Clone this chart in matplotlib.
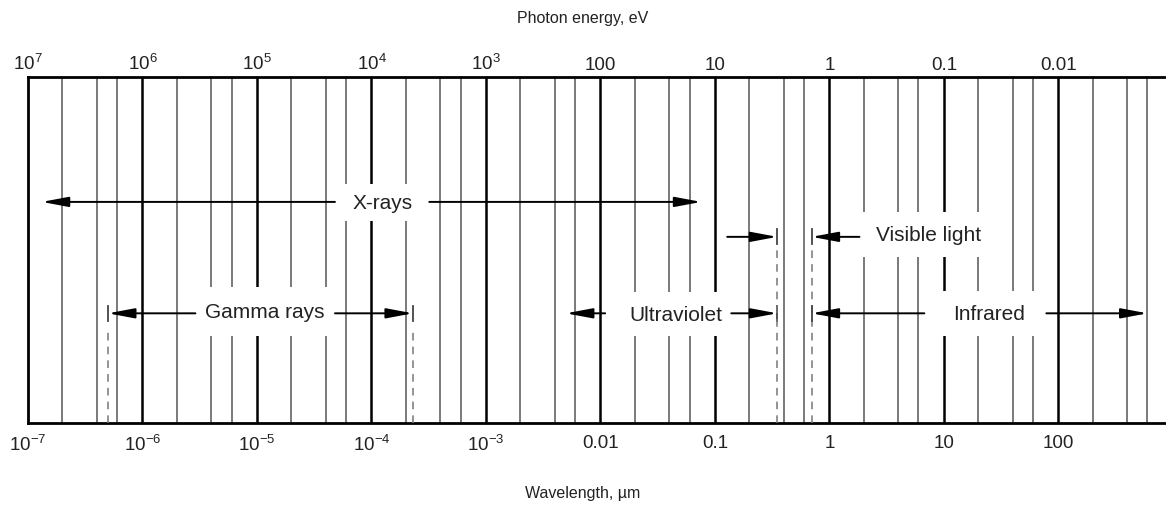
#!/usr/bin/env python3
# -*- coding: utf-8 -*-

import numpy as np
import matplotlib
matplotlib.use('Agg')
import matplotlib.pyplot as plt
from matplotlib.transforms import blended_transform_factory
from matplotlib.patches import Rectangle

plt.rcParams['font.family'] = ['Liberation Sans', 'DejaVu Sans']
plt.rcParams['mathtext.default'] = 'regular'

# wavelength axis (micrometres)
wl_ticks = [1e-7, 1e-6, 1e-5, 1e-4, 1e-3, 1e-2, 1e-1, 1, 10, 100]
wl_labels = ['10$^{-7}$', '10$^{-6}$', '10$^{-5}$', '10$^{-4}$', '10$^{-3}$',
             '0.01', '0.1', '1', '10', '100']
# photon energy labels on top (same positions, inverse scale)
ev_ticks = [1e7, 1e6, 1e5, 1e4, 1e3, 100, 10, 1, 0.1, 0.01]
ev_labels = ['10$^{7}$', '10$^{6}$', '10$^{5}$', '10$^{4}$', '10$^{3}$',
             '100', '10', '1', '0.1', '0.01']
grid_mult = [1, 2, 4, 6]
grid_decades = list(range(-7, 3))

# band limits, µm
xray_range = (1.32e-7, 0.076)
gamma_range = (5e-7, 2.3e-4)
uv_range = (0.005, 0.35)
visible_range = (0.35, 0.7)
ir_range = (0.7, 600)

XMIN, XMAX = 1e-7, 10 ** 2.94

fig = plt.figure(figsize=(11.66, 5.06), dpi=100)
ax = fig.add_axes([28 / 1166, 82 / 506, 1 - 28 / 1166, 346 / 506])
ax.set_xscale('log')
ax.set_xlim(XMIN, XMAX)
ax.set_ylim(0, 1)
ax.set_yticks([])
ax.minorticks_off()
ax.spines['right'].set_visible(False)
for s in ['left', 'top', 'bottom']:
    ax.spines[s].set_linewidth(2.0)

ax.set_xticks(wl_ticks)
ax.set_xticklabels(wl_labels)
ax.tick_params(axis='x', length=0, pad=8, labelsize=13.5, colors='#222222')

inv = lambda x: 1 / np.asarray(x, dtype=float)
secax = ax.secondary_xaxis('top', functions=(inv, inv))
secax.set_xticks(ev_ticks)
secax.set_xticklabels(ev_labels)
secax.minorticks_off()
secax.tick_params(axis='x', length=0, pad=3, labelsize=13.5, colors='#222222')
secax.spines['top'].set_visible(False)

# vertical grid lines
for d in grid_decades:
    for m in grid_mult:
        x = m * 10.0 ** d
        if x <= XMIN or x > XMAX:
            continue
        if m == 1:
            ax.axvline(x, color='black', lw=1.8, zorder=1)
        else:
            ax.axvline(x, color='#555555', lw=1.1, zorder=1)

trans = blended_transform_factory(ax.transData, ax.transAxes)

# white cut-outs with the band names: (text, x0, x1, y0, y1)
label_boxes = [
    ('X-rays', 4.8e-5, 3.2e-4, 0.584, 0.69),
    ('Gamma rays', 2.9e-6, 4.8e-5, 0.251, 0.393),
    ('Ultraviolet', 0.015, 0.139, 0.251, 0.379),
    ('Visible light', 1.83, 30, 0.48, 0.61),
    ('Infrared', 7.8, 78.5, 0.251, 0.382),
]
for name, x0, x1, y0, y1 in label_boxes:
    ax.add_patch(Rectangle((x0, y0), x1 - x0, y1 - y0, transform=trans,
                           facecolor='white', edgecolor='none', zorder=2))
    xc = np.sqrt(x0 * x1)
    ax.text(xc, (y0 + y1) / 2, name, transform=trans, ha='center', va='center',
            fontsize=15, color='#222222', zorder=4)


def arrow(x_from, x_to, y):
    ax.annotate('', xy=(x_to, y), xytext=(x_from, y),
                xycoords=trans, textcoords=trans,
                arrowprops=dict(arrowstyle='-|>,head_length=1.6,head_width=0.3',
                                lw=1.4, color='black', shrinkA=0, shrinkB=0),
                zorder=3)


def bar(x, y):
    ax.plot([x, x], [y - 0.022, y + 0.022], transform=trans, color='#444444',
            lw=1.3, zorder=3)


def dashed(x, ytop):
    ax.plot([x, x], [0, ytop], transform=trans, color='#777777', lw=1.1,
            ls=(0, (5, 4)), zorder=3)


y_top, y_vis, y_low = 0.639, 0.538, 0.317

# X-rays
arrow(4.8e-5, xray_range[0], y_top)
arrow(3.2e-4, xray_range[1], y_top)

# Gamma rays
arrow(2.9e-6, gamma_range[0], y_low)
arrow(4.8e-5, gamma_range[1], y_low)
for x in gamma_range:
    bar(x, y_low)
    dashed(x, y_low - 0.04)

# Ultraviolet
arrow(0.011, uv_range[0], y_low)
arrow(0.139, uv_range[1], y_low)
bar(uv_range[1], y_low)

# Visible light
arrow(0.128, visible_range[0], y_vis)
arrow(1.83, visible_range[1], y_vis)
for x in visible_range:
    bar(x, y_vis)
    dashed(x, y_vis - 0.03)

# Infrared
arrow(6.75, ir_range[0], y_low)
arrow(78.5, ir_range[1], y_low)
bar(ir_range[0], y_low)

fig.text(0.5, 1 - 18 / 506, 'Photon energy, eV', ha='center', va='center',
         fontsize=11.5, color='#222222')
fig.text(0.5, 1 - 494 / 506, 'Wavelength, µm', ha='center', va='center',
         fontsize=11.5, color='#222222')

plt.savefig('out.png', dpi=100)
plt.close()
